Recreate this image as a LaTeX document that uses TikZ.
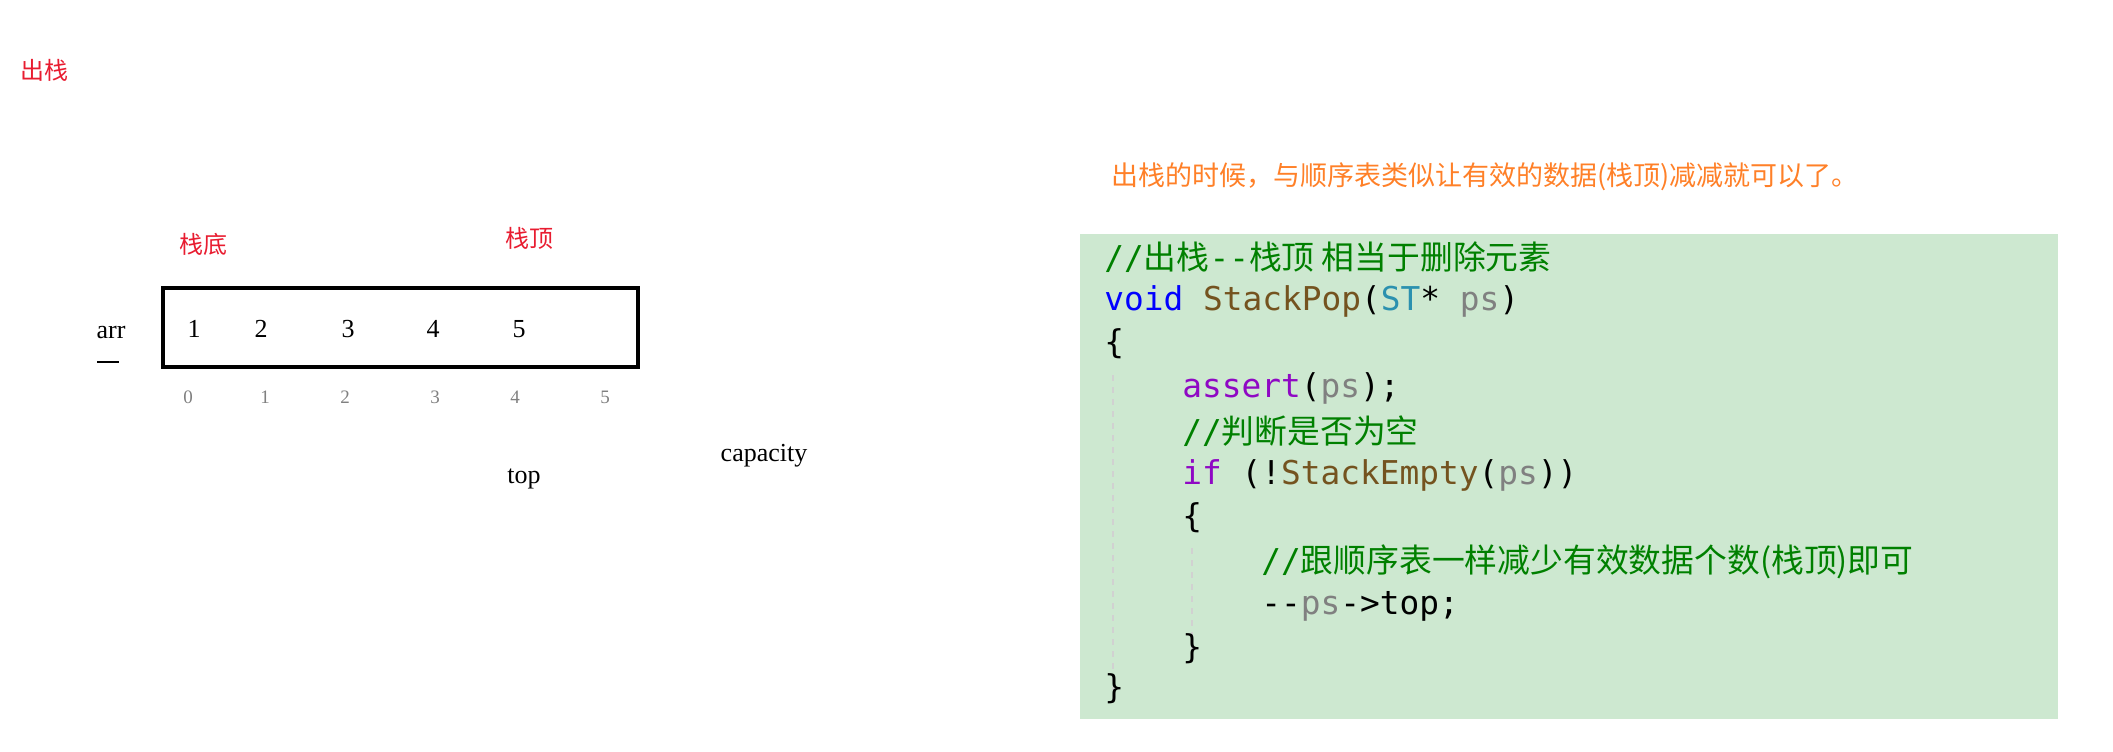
\documentclass[tikz,border=0pt]{standalone}
\usepackage{fontspec}
\setmainfont{Liberation Serif}
\setmonofont{DejaVu Sans Mono}
\newfontfamily\cjk{Noto Sans CJK SC}
\newcommand{\cj}[1]{{\cjk #1}}
\definecolor{popred}{RGB}{232,28,48}
\definecolor{poporange}{RGB}{255,128,40}
\definecolor{popbg}{RGB}{205,232,208}
\definecolor{popcmt}{RGB}{0,128,0}
\definecolor{popkw}{RGB}{0,0,255}
\definecolor{popfn}{RGB}{116,83,31}
\definecolor{poptype}{RGB}{43,145,175}
\definecolor{popvar}{RGB}{128,128,128}
\definecolor{poppur}{RGB}{143,8,196}
\newcommand{\pv}{\textcolor{popvar}{ps}}
\begin{document}
\begin{tikzpicture}[x=0.5pt,y=-0.5pt
,redlbl/.style={color=popred,font=\cjk\fontsize{12}{14}\selectfont}
,cell/.style={font=\fontsize{13}{15}\selectfont}
,idx/.style={color=popvar,font=\fontsize{9.5}{11}\selectfont}
,code/.style={anchor=west,inner sep=0pt,font=\ttfamily\fontsize{16.4}{20}\selectfont}
,guide/.style={color=black!18,dashed,line width=0.6pt}
]
\useasboundingbox (0,0) rectangle (2113,751);
\node[redlbl] (title) at (44,70) {出栈};
\node[redlbl] (bottom) at (203,244) {栈底};
\node[redlbl] (topl) at (529,238) {栈顶};
\draw[line width=2.2pt] (163,288) rectangle (638,367);
\node[cell] (arr) at (111,332) {arr};
\draw[line width=0.6pt] (97,362) -- (119,362);
\foreach \v/\x in {1/194,2/261,3/348,4/433,5/519}
  \node[cell] (v\v) at (\x,329) {\v};
\foreach \i/\x in {0/188,1/265,2/345,3/435,4/515,5/605}
  \node[idx] (i\i) at (\x,397) {\i};
\node[cell] (top) at (524,479) {top};
\node[cell] (cap) at (764,456) {capacity};
\node[anchor=west,color=poporange,font=\cjk\fontsize{13.5}{16}\selectfont] (note) at (1104,177) {出栈的时候，与顺序表类似让有效的数据(栈顶)减减就可以了。};
\fill[popbg] (1080,234) rectangle (2058,719);
\draw[guide] (1113,375) -- (1113,690);
\draw[guide] (1192,548) -- (1192,650);
\node[code] (c1) at (1104,257) {\textcolor{popcmt}{//\cj{出栈}--\cj{栈顶 相当于删除元素}}};
\node[code] (c2) at (1104,301) {\textcolor{popkw}{void} \textcolor{popfn}{StackPop}(\textcolor{poptype}{ST}* \pv)};
\node[code] (c3) at (1104,344) {\{};
\node[code] (c4) at (1182,388) {\textcolor{poppur}{assert}(\pv);};
\node[code] (c5) at (1182,431) {\textcolor{popcmt}{//\cj{判断是否为空}}};
\node[code] (c6) at (1182,475) {\textcolor{poppur}{if} (!\textcolor{popfn}{StackEmpty}(\pv))};
\node[code] (c7) at (1182,518) {\{};
\node[code] (c8) at (1261,562) {\textcolor{popcmt}{//\cj{跟顺序表一样减少有效数据个数(栈顶)即可}}};
\node[code] (c9) at (1261,606) {--\pv->top;};
\node[code] (c10) at (1182,649) {\}};
\node[code] (c11) at (1104,689) {\}};
\end{tikzpicture}
\end{document}
